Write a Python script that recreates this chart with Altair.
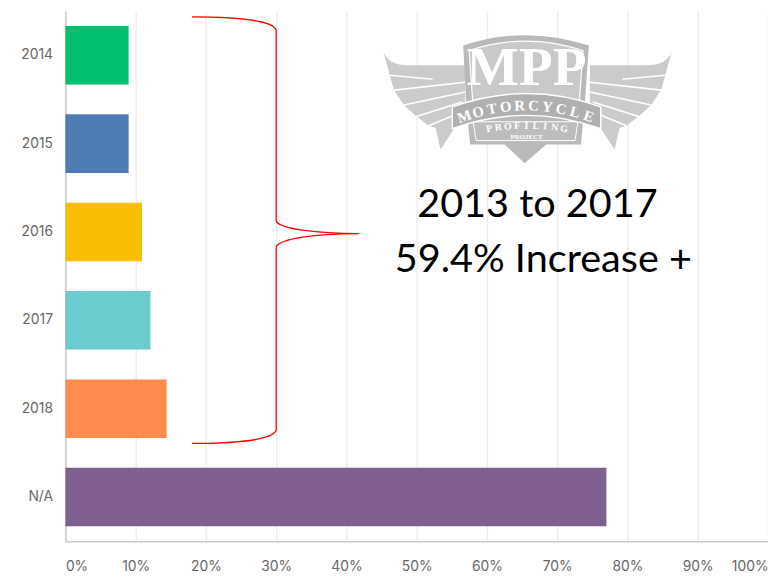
import math
import altair as alt

categories = ["2014", "2015", "2016", "2017", "2018", "N/A"]
shares = [9.0, 9.0, 10.9, 12.1, 14.4, 77.0]
bar_colors = ["#00c16e", "#507cb6", "#f9be00", "#6ccbce", "#ff8b4f", "#7f5f8f"]
x_ticks = [0, 10, 20, 30, 40, 50, 60, 70, 80, 90, 100]
headline = ["2013 to 2017", "59.4% Increase +"]

FONT = "Inter"
ONE = alt.Data(values=[{"a": 1}])
OX, OY = 66, 8  # page position of the plot origin


def shape(path, fill=None, stroke=None, sw=1.0):
    """Decorative vector drawn in page pixels (size 4 => unit scale)."""
    if fill:
        m = alt.Chart(ONE).mark_point(shape=path, size=4, filled=True, fill=fill, opacity=1)
    else:
        m = alt.Chart(ONE).mark_point(shape=path, size=4, filled=False, stroke=stroke,
                                      strokeWidth=sw, opacity=1)
    return m.encode(x=alt.value(-OX), y=alt.value(-OY))


def label(txt, x, y, size, color="black", font=FONT, weight="normal", angle=0):
    return alt.Chart(ONE).mark_text(text=txt, fontSize=size, font=font, fontWeight=weight,
                                    color=color, align="center", baseline="middle",
                                    angle=angle % 360).encode(
        x=alt.value(x - OX), y=alt.value(y - OY))


def arc_text(txt, p0, c, p1, size, t0=0.05, t1=0.95):
    out = []
    n = len(txt)
    for i, ch in enumerate(txt):
        t = t0 + (t1 - t0) * i / (n - 1)
        x = (1 - t) ** 2 * p0[0] + 2 * t * (1 - t) * c[0] + t ** 2 * p1[0]
        y = (1 - t) ** 2 * p0[1] + 2 * t * (1 - t) * c[1] + t ** 2 * p1[1]
        dx = 2 * (1 - t) * (c[0] - p0[0]) + 2 * t * (p1[0] - c[0])
        dy = 2 * (1 - t) * (c[1] - p0[1]) + 2 * t * (p1[1] - c[1])
        out.append(label(ch, x, y, size, color="white", font="Liberation Serif",
                         weight="bold", angle=math.degrees(math.atan2(dy, dx))))
    return out


bars = alt.Chart(alt.Data(values=[
    {"cat": c, "share": s} for c, s in zip(categories, shares)
])).mark_bar().encode(
    y=alt.Y("cat:N", sort=categories, title=None,
            scale=alt.Scale(paddingInner=0.337, paddingOuter=0.17),
            axis=alt.Axis(tickSize=0, labelPadding=13, labelFontSize=14, labelFont=FONT,
                          labelColor="#666666", domainColor="#cccccc", domainWidth=1.5,
                          grid=False)),
    x=alt.X("share:Q", title=None, scale=alt.Scale(domain=[0, 100], nice=False),
            axis=alt.Axis(values=x_ticks, labelExpr="datum.value + '%'", labelFlush=True,
                          tickSize=0, labelPadding=18, labelFontSize=14, labelFont=FONT,
                          labelColor="#666666", domainColor="#cccccc", domainWidth=1.5,
                          grid=True, gridColor="#eeeeee", gridWidth=1.5)),
    color=alt.Color("cat:N", sort=categories, legend=None,
                    scale=alt.Scale(domain=categories, range=bar_colors)),
)

# Logo -------------------------------------------------------------------
WING = "#cbcbcb"
left_wing = ("M387 48 C390 58 398 63 414 63 L470 63 L470 110 L445 148 L440 126 L433 124 "
             "L420 114 L408 103 L398 88 L393 70 Z")
right_wing = ("M679 48 C676 58 668 63 652 63 L596 63 L596 110 L621 148 L626 126 L633 124 "
              "L646 114 L658 103 L668 88 L673 70 Z")
feathers_l = "M394 73 L437 77 M398 88 L470 80 M408 103 L470 90 M420 115 L467 100 M433 124 L460 113"
feathers_r = "M672 73 L629 77 M668 88 L596 80 M658 103 L596 90 M646 115 L599 100 M633 124 L606 113"
shield_outer = "M468 43 Q530 22 595 43 L591 100 L587 143 L552 143 L530 162 L510 143 L475 143 L471 100 Z"
shield_inner = "M474 48 Q530 29 589 48 L585 105 L478 105 Z"
lower_box = "M478 120 L584 120 L581 139 L481 139 Z"
ribbon = "M457 105 Q532 78 607 105 L607 127 Q532 100 457 127 Z"

logo = [
    shape(left_wing, fill=WING),
    shape(right_wing, fill=WING),
    shape(feathers_l, stroke="white", sw=1.6),
    shape(feathers_r, stroke="white", sw=1.6),
    shape(shield_outer, fill="#b9b9b9"),
    shape(shield_inner, fill="#c9c9c9", stroke=None),
    shape(shield_inner, stroke="white", sw=1.2),
    shape(lower_box, fill="#bdbdbd"),
    shape(lower_box, stroke="white", sw=1.0),
    shape(ribbon, fill="#b0b0b0"),
    shape(ribbon, stroke="white", sw=1.4),
    label("MPP", 532, 66, 56, color="white", font="Liberation Sans Narrow", weight="bold"),
]
logo += arc_text("MOTORCYCLE", (462, 117), (532, 90), (602, 117), 15)
logo += arc_text("PROFILING", (490, 128), (532, 120), (574, 128), 10)
logo += [label("PROJECT", 532, 135, 7, color="white", font="Liberation Serif", weight="bold")]

# Brace ------------------------------------------------------------------
brace_path = ("M194 14 C240 14 275 18 279 27 L279 220 C281 228 320 233 363 233 "
              "C320 233 281 238 279 247 L279 432 C275 441 240 445 194 445")
brace = shape(brace_path, stroke="#ff0000", sw=1.3)

text1 = label(headline[0], 543, 204, 40, font="Lato")
text2 = label(headline[1], 549, 260, 40, font="Lato")

chart = alt.layer(bars, *logo, brace, text1, text2).properties(
    width=710, height=536,
    padding={"left": 58, "top": 0, "right": 0, "bottom": 28},
    autosize=alt.AutoSizeParams(type="none"),
    background="white",
).configure_view(stroke=None)

chart.save("out.html", embed_options={"renderer": "svg", "actions": False})
